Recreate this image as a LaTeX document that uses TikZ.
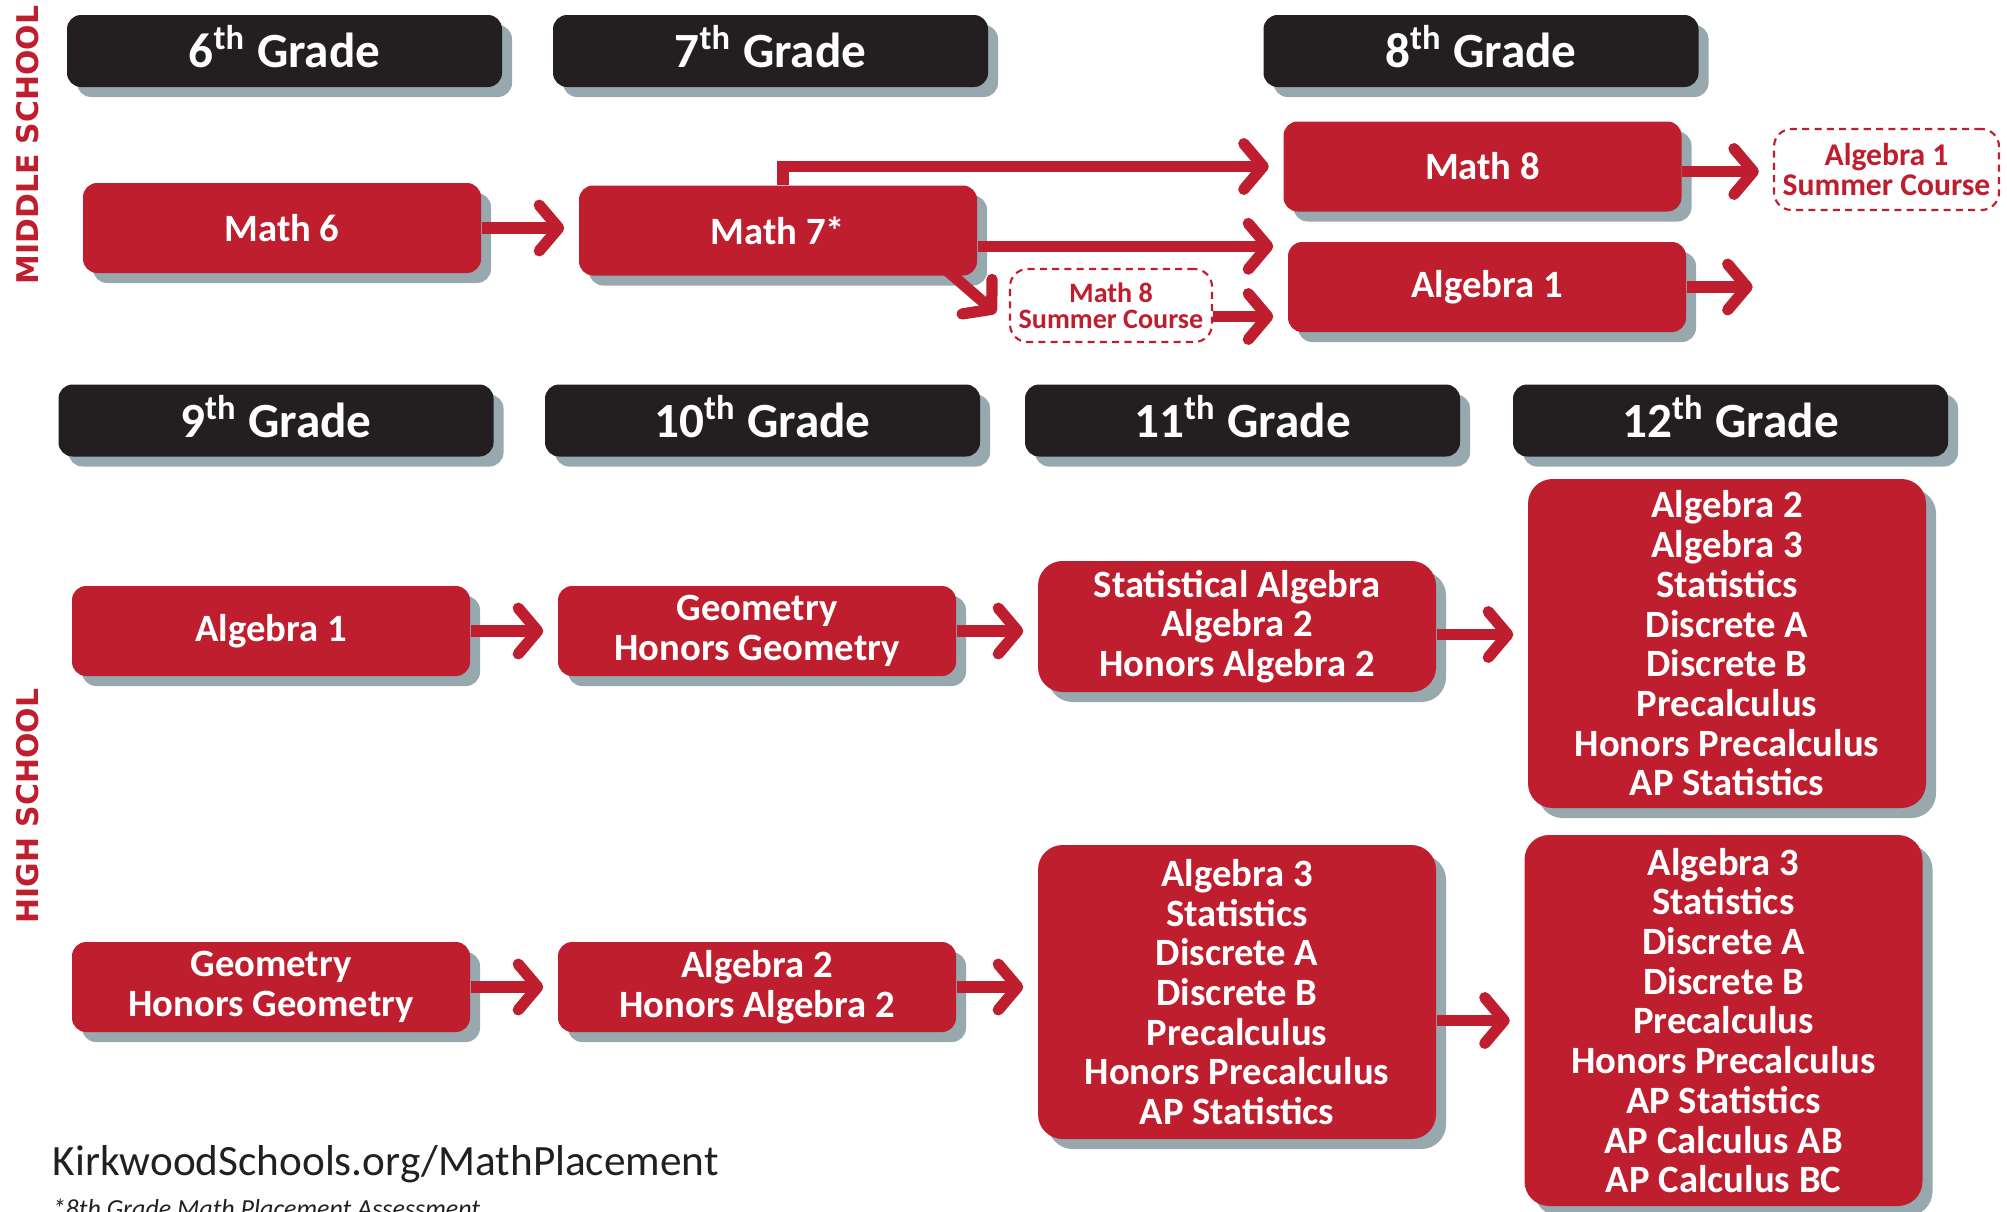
\documentclass[tikz,border=0pt]{standalone}
\usepackage{fontspec}
\setmainfont{Carlito}
\newfontfamily\sidefont{DejaVu Sans}
\usetikzlibrary{arrows.meta,shadows,calc}

\definecolor{kred}{HTML}{BE1E2D}
\definecolor{kblack}{HTML}{231F20}
\definecolor{kshadow}{HTML}{97A8AE}

\tikzset{
  boxshadow/.style={general shadow={fill=kshadow, shadow xshift=0.1cm, shadow yshift=-0.1cm}},
  grade/.style={fill=kblack, text=white, rounded corners=4pt, minimum width=4.35cm, minimum height=0.72cm,
    inner sep=0pt, text depth=2.5pt, font=\fontsize{14}{16}\selectfont\bfseries, boxshadow},
  course/.style={fill=kred, text=white, rounded corners=4pt, minimum width=3.98cm, minimum height=0.9cm,
    inner sep=0pt, align=center, font=\fontsize{11}{11.3}\selectfont\bfseries, boxshadow},
  bigcourse/.style={course, rounded corners=7pt},
  summer/.style={draw=kred, line width=0.6pt, dash pattern=on 2pt off 1.5pt, fill=white, text=kred,
    rounded corners=5pt, inner sep=0pt, align=center},
  flow/.style={kred, line width=3.2pt, -{Straight Barb[length=5.5pt,width=13pt,round]}, shorten >=4pt},
  side/.style={text=kred, rotate=90, font=\sidefont\fontsize{8.5}{10}\selectfont\bfseries}
}

\begin{document}
\begin{tikzpicture}
\useasboundingbox (0,0) rectangle (20.07,12.11);

% middle school
\node[side] (ms) at (0.28,10.66) {MIDDLE SCHOOL};

\node[grade] (g6) at (2.845,11.60) {6\textsuperscript{th} Grade};
\node[grade] (g7) at (7.705,11.60) {7\textsuperscript{th} Grade};
\node[grade] (g8) at (14.81,11.60) {8\textsuperscript{th} Grade};

\node[course] (m6) at (2.82,9.83) {Math 6};
\node[course] (m7) at (7.78,9.805) {Math 7*};
\node[course] (m8) at (14.825,10.445) {Math 8};
\node[course] (a1) at (14.87,9.24) {Algebra 1};
\node[summer, minimum width=2.25cm, minimum height=0.81cm, font=\fontsize{9}{8.4}\selectfont\bfseries]
  (sa1) at (18.865,10.415) {Algebra 1\\Summer Course};
\node[summer, minimum width=2.02cm, minimum height=0.73cm, font=\fontsize{8}{7.5}\selectfont\bfseries]
  (sm8) at (11.11,9.055) {Math 8\\Summer Course};

\coordinate (c7a) at ($(a1.north west)+(0,-0.05)$);
\coordinate (c7s) at ($(sm8.west)+(-0.13,-0.075)$);
\coordinate (a1end) at ($(a1.east)+(0.8,0)$);

\draw[flow] (m6.east) -- (m6.east -| m7.west);
\draw[flow] ([xshift=0.05cm]m7.north) |- (m8);
\draw[flow] (m7.east |- c7a) -- (c7a);
\draw[flow, shorten >=0pt] ($(m7.south east)+(-0.3,0.05)$) -- (c7s);
\draw[flow] ([yshift=-0.11cm]sm8.east) -- ([yshift=-0.11cm]sm8.east -| a1.west);
\draw[flow] ([yshift=-0.05cm]m8.east) -- ([yshift=-0.05cm]m8.east -| sa1.west);
\draw[flow] (a1.east) -- (a1end);

% high school
\node[side] (hs) at (0.28,4.05) {HIGH SCHOOL};

\node[grade] (g9) at (2.76,7.905) {9\textsuperscript{th} Grade};
\node[grade] (g10) at (7.625,7.905) {10\textsuperscript{th} Grade};
\node[grade] (g11) at (12.425,7.905) {11\textsuperscript{th} Grade};
\node[grade] (g12) at (17.305,7.905) {12\textsuperscript{th} Grade};

\node[course] (h1a) at (2.71,5.80) {Algebra 1};
\node[course] (h1b) at (7.57,5.80) {Geometry\\Honors Geometry};
\node[bigcourse, minimum height=1.31cm] (h1c) at (12.37,5.845) {Statistical Algebra\\Algebra 2\\Honors Algebra 2};
\node[bigcourse, minimum height=3.29cm] (h1d) at (17.27,5.675)
  {Algebra 2\\Algebra 3\\Statistics\\Discrete A\\Discrete B\\Precalculus\\Honors Precalculus\\AP Statistics};

\node[course] (h2a) at (2.71,2.24) {Geometry\\Honors Geometry};
\node[course] (h2b) at (7.57,2.24) {Algebra 2\\Honors Algebra 2};
\node[bigcourse, minimum height=2.94cm] (h2c) at (12.37,2.19)
  {Algebra 3\\Statistics\\Discrete A\\Discrete B\\Precalculus\\Honors Precalculus\\AP Statistics};
\node[bigcourse, minimum height=3.71cm] (h2d) at (17.235,1.905)
  {Algebra 3\\Statistics\\Discrete A\\Discrete B\\Precalculus\\Honors Precalculus\\AP Statistics\\AP Calculus AB\\AP Calculus BC};

\draw[flow] (h1a) -- (h1b);
\draw[flow] (h1b.east) -- (h1b.east -| h1c.west);
\draw[flow] ([yshift=-0.08cm]h1c.east) -- ([yshift=-0.08cm]h1c.east -| h1d.west);
\draw[flow] (h2a) -- (h2b);
\draw[flow] (h2b.east) -- (h2b.east -| h2c.west);
\draw[flow] (h2c.east |- h2d.west) -- (h2d.west);

\node[anchor=base west, inner sep=0pt, text=kblack, font=\fontsize{12.3}{14}\selectfont] (url) at (0.52,0.36)
  {KirkwoodSchools.org/MathPlacement};
\node[anchor=base west, inner sep=0pt, text=kblack, font=\fontsize{7.4}{9}\selectfont\itshape] (note) at (0.52,-0.06)
  {*8th Grade Math Placement Assessment};

\end{tikzpicture}
\end{document}
